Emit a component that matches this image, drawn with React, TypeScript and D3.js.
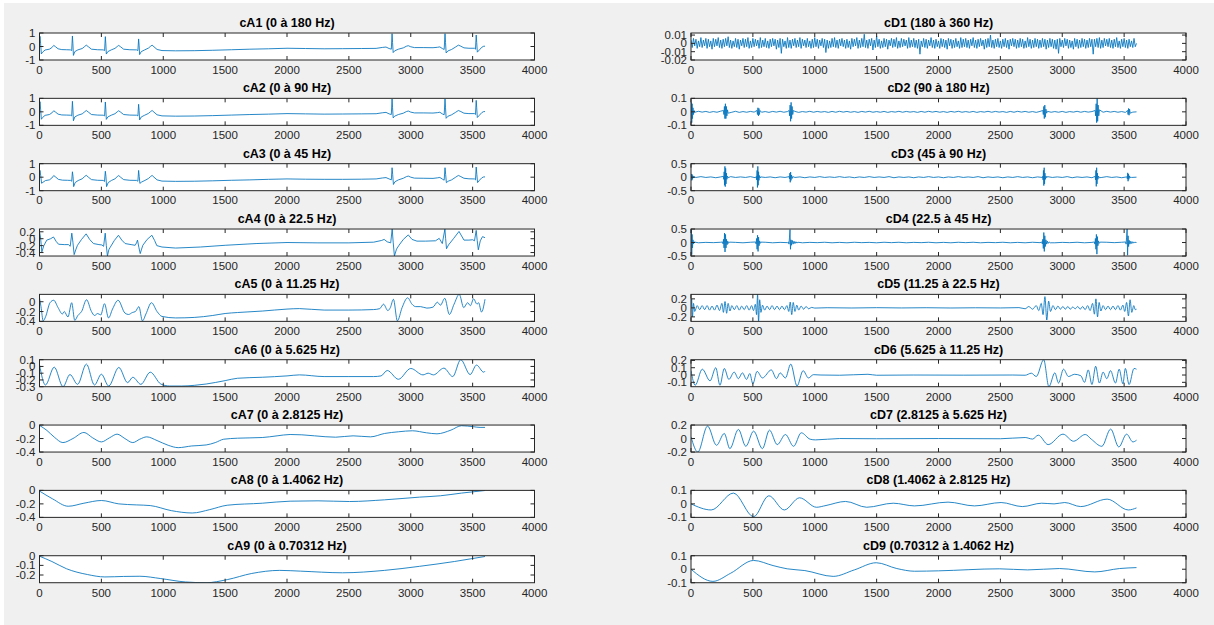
import React from "react";
import * as d3 from "d3";

type Pt = [number, number];

// ---------- axes ticks ----------
const X_TICKS = [0, 500, 1000, 1500, 2000, 2500, 3000, 3500, 4000];

// ---------- approximations (cA) ----------
const cA12: Pt[] = [
  [0, 0.3], [4, 0.75], [9, 0.2], [15, -0.55], [25, -0.42], [45, -0.26], [80, -0.2], [100, -0.08], [115, 0.08],
  [130, -0.02], [150, -0.17], [180, -0.23], [220, -0.24], [250, -0.25], [260, -0.3], [266, 0.78], [270, 0.2],
  [274, -0.66], [285, -0.38], [310, -0.25], [345, -0.15], [365, 0], [378, 0.1], [395, -0.02], [420, -0.2],
  [470, -0.24], [515, -0.25], [526, -0.3], [532, 0.73], [536, 0.2], [540, -0.56], [552, -0.38], [580, -0.25],
  [610, -0.14], [628, 0], [640, 0.08], [655, -0.02], [680, -0.2], [730, -0.24], [785, -0.25], [795, -0.3],
  [801, 0.56], [805, 0.1], [809, -0.6], [822, -0.38], [850, -0.25], [880, -0.12], [898, 0.02], [910, 0.1],
  [925, -0.02], [950, -0.22], [990, -0.3], [1100, -0.32], [1250, -0.31], [1400, -0.28], [1550, -0.24],
  [1700, -0.2], [1850, -0.17], [2000, -0.13], [2150, -0.15], [2300, -0.17], [2450, -0.16], [2600, -0.15],
  [2720, -0.14], [2770, -0.07], [2800, -0.04], [2825, -0.15], [2843, -0.2], [2849, 0.95], [2853, 0.3],
  [2858, -0.45], [2870, -0.32], [2900, -0.2], [2940, -0.1], [2965, 0.02], [2980, 0.06], [3000, -0.02],
  [3030, -0.08], [3100, -0.08], [3180, -0.09], [3215, -0.06], [3235, -0.03], [3255, -0.15], [3270, -0.22],
  [3277, 0.95], [3281, 0.3], [3286, -0.48], [3300, -0.33], [3330, -0.22], [3360, -0.05], [3385, 0.1],
  [3405, 0.02], [3430, -0.1], [3470, -0.13], [3515, -0.13], [3523, -0.2], [3529, 0.85], [3533, 0.3],
  [3538, -0.42], [3555, -0.25], [3575, -0.05], [3590, 0.02], [3600, 0.02],
];

const cA3: Pt[] = [
  [0, 0.25], [4, 0.5], [10, 0.1], [17, -0.45], [28, -0.38], [48, -0.25], [80, -0.2], [100, -0.06], [115, 0.12],
  [132, 0.0], [152, -0.16], [185, -0.22], [225, -0.23], [252, -0.24], [260, -0.3], [266, 0.4], [271, 0.05],
  [276, -0.7], [288, -0.4], [312, -0.25], [345, -0.12], [365, 0.05], [378, 0.14], [395, 0.0], [420, -0.18],
  [470, -0.23], [515, -0.24], [525, -0.32], [532, 0.44], [537, 0.05], [542, -0.7], [555, -0.4], [582, -0.24],
  [610, -0.12], [628, 0.04], [640, 0.12], [655, 0.0], [680, -0.18], [730, -0.23], [785, -0.24], [795, -0.3],
  [801, 0.5], [806, 0.05], [811, -0.46], [825, -0.36], [852, -0.24], [880, -0.1], [898, 0.05], [910, 0.13],
  [925, 0.0], [950, -0.2], [990, -0.29], [1100, -0.31], [1250, -0.3], [1400, -0.27], [1550, -0.23],
  [1700, -0.2], [1850, -0.16], [2000, -0.13], [2150, -0.15], [2300, -0.16], [2450, -0.16], [2600, -0.15],
  [2720, -0.13], [2770, -0.06], [2800, -0.03], [2825, -0.13], [2843, -0.2], [2849, 0.7], [2854, 0.2],
  [2860, -0.54], [2872, -0.34], [2900, -0.2], [2940, -0.08], [2965, 0.04], [2980, 0.08], [3000, 0.0],
  [3030, -0.07], [3100, -0.08], [3180, -0.09], [3215, -0.05], [3235, -0.02], [3255, -0.14], [3270, -0.22],
  [3277, 0.7], [3282, 0.2], [3288, -0.41], [3302, -0.3], [3330, -0.2], [3360, -0.02], [3385, 0.13],
  [3405, 0.04], [3430, -0.08], [3470, -0.12], [3515, -0.13], [3523, -0.2], [3529, 0.75], [3534, 0.2],
  [3540, -0.4], [3556, -0.22], [3575, -0.04], [3590, 0.02], [3600, 0.02],
];

const cA4: Pt[] = [
  [0, 0.2], [8, 0.05], [19, -0.38], [35, -0.2], [59, -0.04], [90, 0.0], [113, 0.05], [135, -0.08], [154, -0.16],
  [200, -0.17], [234, -0.17], [248, -0.22], [261, 0.16], [270, -0.1], [280, -0.46], [295, -0.3], [307, -0.19],
  [340, -0.02], [377, 0.14], [405, -0.02], [436, -0.14], [480, -0.17], [504, -0.18], [518, -0.22], [531, 0.16],
  [540, -0.2], [549, -0.5], [560, -0.32], [571, -0.25], [605, -0.05], [638, 0.1], [665, -0.04], [692, -0.14],
  [740, -0.17], [773, -0.19], [784, -0.12], [792, -0.04], [803, -0.25], [814, -0.43], [825, -0.3], [835, -0.19],
  [870, -0.02], [908, 0.1], [930, -0.05], [948, -0.2], [990, -0.24], [1100, -0.27], [1300, -0.24],
  [1500, -0.19], [1750, -0.14], [2000, -0.11], [2250, -0.12], [2500, -0.12], [2700, -0.1], [2765, -0.05],
  [2785, -0.02], [2810, -0.09], [2838, -0.12], [2850, 0.28], [2858, -0.1], [2868, -0.5], [2885, -0.3],
  [2905, -0.19], [2940, -0.02], [2980, 0.11], [3010, -0.02], [3050, -0.07], [3120, -0.07], [3200, -0.06],
  [3230, 0.01], [3255, -0.14], [3276, 0.28], [3282, 0.0], [3289, -0.29], [3305, -0.18], [3345, 0.0],
  [3390, 0.21], [3430, -0.04], [3470, -0.04], [3500, -0.03], [3515, -0.06], [3529, 0.24], [3537, -0.05],
  [3546, -0.32], [3562, -0.06], [3580, 0.06], [3600, 0.03],
];

const cA5: Pt[] = [
  [0, 0.08], [12, -0.1], [30, -0.39], [50, -0.3], [85, -0.02], [115, 0.03], [150, -0.12], [185, -0.25],
  [200, -0.2], [230, -0.31], [260, -0.02], [285, -0.38], [310, -0.28], [340, -0.2], [380, 0.04], [420, -0.2],
  [445, -0.28], [470, -0.24], [495, -0.27], [525, -0.04], [558, -0.33], [590, -0.15], [635, 0.03],
  [690, -0.23], [720, -0.26], [750, -0.22], [775, -0.2], [803, -0.1], [832, -0.39], [860, -0.25], [905, -0.02],
  [950, -0.2], [990, -0.3], [1100, -0.33], [1250, -0.32], [1400, -0.28], [1500, -0.24], [1600, -0.22],
  [1800, -0.19], [2000, -0.15], [2100, -0.14], [2300, -0.17], [2500, -0.17], [2700, -0.16], [2750, -0.14],
  [2780, -0.05], [2815, -0.18], [2835, -0.12], [2860, 0.05], [2892, -0.39], [2930, -0.12], [2975, 0.08],
  [3010, -0.05], [3040, -0.1], [3080, -0.1], [3130, -0.13], [3180, -0.11], [3215, -0.01], [3240, -0.07],
  [3275, 0.07], [3312, -0.26], [3350, -0.05], [3392, 0.15], [3428, -0.12], [3460, -0.02], [3482, -0.08],
  [3508, 0.06], [3535, -0.05], [3548, -0.02], [3572, -0.21], [3600, 0.05],
];

const cA6: Pt[] = [
  [0, 0.025], [48, -0.275], [119, -0.01], [190, -0.3], [246, -0.12], [308, -0.265], [379, 0.035],
  [444, -0.275], [500, -0.115], [559, -0.29], [641, -0.015], [712, -0.24], [754, -0.16], [819, -0.265],
  [895, -0.085], [980, -0.26], [1050, -0.29], [1150, -0.29], [1250, -0.28], [1347, -0.26], [1500, -0.21],
  [1600, -0.175], [1800, -0.16], [2000, -0.14], [2100, -0.125], [2300, -0.15], [2500, -0.15], [2700, -0.15],
  [2760, -0.14], [2810, -0.06], [2900, -0.19], [3000, -0.03], [3099, -0.125], [3141, -0.1], [3183, -0.125],
  [3268, -0.025], [3339, -0.15], [3404, 0.1], [3480, -0.12], [3531, 0.02], [3590, -0.085], [3600, -0.07],
];

const cA7: Pt[] = [
  [0, -0.005], [60, -0.08], [120, -0.18], [189, -0.26], [270, -0.2], [359, -0.11], [430, -0.19], [500, -0.25],
  [565, -0.19], [627, -0.135], [690, -0.2], [754, -0.26], [810, -0.21], [867, -0.175], [950, -0.23],
  [1040, -0.3], [1121, -0.335], [1230, -0.31], [1347, -0.295], [1420, -0.26], [1489, -0.21], [1600, -0.195],
  [1800, -0.185], [1920, -0.16], [2025, -0.14], [2120, -0.145], [2223, -0.16], [2393, -0.18], [2534, -0.16],
  [2675, -0.175], [2788, -0.125], [2900, -0.1], [3014, -0.085], [3127, -0.115], [3212, -0.13], [3325, -0.075],
  [3410, -0.01], [3508, -0.025], [3560, -0.035], [3600, -0.035],
];

const cA8: Pt[] = [
  [0, -0.01], [105, -0.125], [232, -0.235], [359, -0.19], [500, -0.15], [641, -0.2], [782, -0.215],
  [895, -0.225], [1065, -0.3], [1234, -0.335], [1376, -0.285], [1517, -0.22], [1800, -0.19], [2025, -0.16],
  [2250, -0.155], [2506, -0.165], [2788, -0.14], [3071, -0.1], [3240, -0.08], [3410, -0.04], [3600, -0.002],
];

const cA9: Pt[] = [
  [0, -0.005], [100, -0.06], [218, -0.135], [387, -0.195], [528, -0.22], [680, -0.215], [811, -0.213],
  [980, -0.237], [1178, -0.272], [1347, -0.28], [1517, -0.248], [1715, -0.184], [1941, -0.152], [2110, -0.16],
  [2449, -0.177], [2788, -0.152], [3071, -0.11], [3353, -0.06], [3600, -0.008],
];

// ---------- details (cD) ----------
// cD1: one value every 10 samples, in thousandths
const cD1Noise = [
  4, -5, 6, -3, 5, -6, 3, -4, 7, -5, 4, -3, 6, -6, 5, -4, 3, -7, 6, -4,
  5, -3, 7, -5, 4, -6, 5, -4, 6, -3, 8, -5, 4, -6, 3, -4, 6, -5, 5, -7,
  4, -3, 6, -5, 5, -4, 7, -6, 3, -5, 6, -4, 5, -3, 4, -6, 7, -5, 4, -4,
  6, -5, 3, -6, 5, -4, 6, -3, 5, -7, 4, -5, 6, -12, 5, -4, 3, -6, 7, -5,
  4, -6, 5, -3, 6, -5, 4, -4, 7, -6, 5, -3, 4, -5, 6, -4, 3, -6, 5, -5,
  7, -4, 5, -6, 4, -3, 6, -5, 5, -11, 4, -6, 3, -5, 6, -4, 7, -5, 4, -6,
  5, -3, 6, -4, 4, -6, 5, -5, 3, -7, 6, -4, 5, -3, 7, -6, 4, -5, 6, -4,
  11, -5, 4, -6, 5, -3, 6, -8, 4, -5, 9, -4, 5, -6, 3, -5, 6, -4, 5, -7,
  4, -3, 6, -5, 5, -4, 7, -6, 3, -5, 6, -4, 5, -3, 4, -6, 7, -5, 4, -4,
  6, -5, 4, -6, 5, -13, 3, -4, 6, -5, 5, -6, 4, -3, 7, -5, 4, -6, 5, -4,
  3, -6, 6, -4, 5, -5, 4, -7, 6, -3, 5, -6, 4, -5, 6, -4, 3, -6, 7, -5,
  5, -4, 6, -5, 4, -6, 5, -3, 7, -5, 4, -6, 5, -4, 6, -3, 4, -7, 5, -5,
  6, -4, 10, -5, 4, -6, 5, -4, 6, -5, 3, -6, 5, -4, 6, -5, 4, -7, 5, -3,
  6, -4, 5, -6, 4, -5, 6, -4, 5, -6, 3, -5, 7, -4, 5, -6, 4, -5, 6, -4,
  5, -6, 4, -5, 6, -4, 5, -7, 4, -5, 6, -4, 5, -6, 4, -7, 5, -12, 6, -4,
  4, -5, 6, -3, 5, -6, 4, -5, 3, -7, 6, -4, 5, -6, 4, -5, 6, -4, 5, -6,
  4, -5, 6, -4, 5, -13, 5, -4, 6, -5, 7, -6, 4, -5, 6, -3, 5, -4, 6, -5,
  4, -6, 5, -4, 7, -5, 3, -6, 5, -4, 6, -5, 4, -6, 5, -4, 3, -5, 6, -4,
  0,
];

// cD2: baseline every 30 samples, in thousandths
const cD2Noise = [
  2, -3, 4, -2, 3, -4, 2, -3, 5, -2, 3, -3, 4, -4, 2, -3, 3, -2, 4, -3,
  2, -4, 3, -2, 4, -3, 2, -3, 3, -4, 2, -2, 4, -3, 3, -2, 2, -4, 3, -3,
  4, -2, 3, -3, 2, -4, 3, -2, 4, -3, 2, -3, 3, -4, 2, -2, 4, -3, 3, -2,
  2, -4, 3, -3, 4, -2, 3, -3, 2, -4, 3, -2, 4, -3, 2, -3, 3, -4, 2, -2,
  4, -3, 3, -2, 2, -4, 3, -3, 4, -2, 3, -3, 2, -4, 3, -2, 4, -3, 2, -3,
  3, -4, 2, -2, 4, -3, 3, -2, 2, -4, 3, -3, 4, -2, 3, -3, 2, -4, 3, -2,
  0,
];
const cD2Bursts: Pt[][] = [
  [[0, 0.0], [3, 0.07], [6, -0.08], [9, 0.06], [12, -0.05], [16, 0.03], [20, -0.02], [25, 0.01]],
  [[262, 0.01], [266, -0.02], [270, 0.04], [274, -0.05], [278, 0.06], [282, -0.05], [286, 0.04], [290, -0.03], [295, 0.015], [300, -0.01]],
  [[533, 0.01], [537, -0.02], [541, 0.03], [545, -0.03], [549, 0.025], [553, -0.02], [558, 0.01]],
  [[793, 0.01], [797, -0.03], [801, 0.05], [805, -0.07], [809, 0.07], [813, -0.05], [817, 0.04], [822, -0.02], [828, 0.01]],
  [[2843, 0.01], [2847, -0.02], [2851, 0.04], [2855, -0.05], [2859, 0.05], [2863, -0.04], [2868, 0.02], [2874, -0.01]],
  [[3266, 0.01], [3270, -0.03], [3274, 0.06], [3278, -0.08], [3282, 0.1], [3286, -0.07], [3290, 0.05], [3295, -0.03], [3301, 0.015]],
  [[3528, 0.01], [3532, -0.02], [3536, 0.025], [3540, -0.025], [3544, 0.02], [3549, -0.01]],
];

// cD3: baseline every 40 samples, in hundredths
const cD3Noise = [
  1, -1, 2, -1, 1, -2, 1, -1, 2, -1, 1, -1, 2, -2, 1,
  -1, 1, -2, 1, -1, 2, -1, 1, -2, 1, -1, 2, -1, 1, -1,
  2, -1, 1, -2, 1, -1, 2, -1, 1, -1, 2, -2, 1, -1, 1,
  -2, 1, -1, 2, -1, 1, -2, 1, -1, 2, -1, 1, -1, 2, -2,
  1, -1, 1, -2, 1, -1, 2, -1, 1, -2, 1, -1, 2, -1, 1,
  -1, 2, -2, 1, -1, 1, -2, 1, -1, 2, -1, 1, -2, 1, -1,
  0,
];
const cD3Bursts: Pt[][] = [
  [[0, 0.02], [3, 0.12], [6, -0.12], [9, 0.1], [12, -0.08], [16, 0.05], [20, -0.03], [25, 0.01]],
  [[262, 0.03], [265, -0.08], [268, 0.2], [271, -0.3], [274, 0.4], [277, -0.35], [280, 0.33], [283, -0.25], [286, 0.15], [290, -0.08], [295, 0.04], [300, -0.02]],
  [[528, 0.03], [531, -0.1], [534, 0.25], [537, -0.38], [540, 0.4], [543, -0.3], [546, 0.2], [549, -0.12], [553, 0.06], [558, -0.03], [563, 0.01]],
  [[793, 0.02], [796, -0.06], [799, 0.15], [802, -0.19], [805, 0.19], [808, -0.12], [812, 0.08], [817, -0.05], [822, 0.02]],
  [[2842, 0.03], [2845, -0.1], [2848, 0.25], [2851, -0.31], [2854, 0.35], [2857, -0.25], [2860, 0.15], [2864, -0.08], [2869, 0.04], [2875, -0.02]],
  [[3266, 0.03], [3269, -0.1], [3272, 0.25], [3275, -0.34], [3278, 0.35], [3281, -0.25], [3284, 0.15], [3288, -0.08], [3293, 0.04], [3299, -0.02]],
  [[3523, 0.02], [3526, -0.06], [3529, 0.16], [3532, -0.15], [3535, 0.12], [3538, -0.08], [3542, 0.05], [3547, -0.03], [3553, 0.01]],
];

// cD4: baseline every 60 samples, in hundredths
const cD4Noise = [
  1, -1, 0.5, -0.5, 1, -1, 0.5, -1, 1, -0.5, 1, -1, 0.5, -0.5, 1,
  -1, 0.5, -0.5, 1, -1, 0.5, -1, 1, -0.5, 0.5, -1, 1, -0.5, 1, -1,
  0.5, -0.5, 1, -1, 0.5, -1, 1, -0.5, 1, -1, 0.5, -0.5, 1, -1, 0.5,
  -1, 1, -0.5, 1, -1, 0.5, -0.5, 1, -1, 0.5, -1, 1, -0.5, 1, -1,
  0,
];
const cD4Bursts: Pt[][] = [
  [[0, 0.05], [3, 0.5], [6, -0.45], [9, 0.3], [12, -0.2], [16, 0.1], [20, -0.05], [25, 0.02]],
  [[255, 0.02], [259, -0.05], [263, 0.12], [267, -0.2], [271, 0.35], [275, -0.35], [279, 0.3], [283, -0.2], [287, 0.12], [292, -0.08], [297, 0.05], [303, -0.03], [310, 0.015]],
  [[522, 0.02], [526, -0.05], [530, 0.15], [534, -0.25], [538, 0.27], [542, -0.33], [546, 0.2], [550, -0.12], [555, 0.06], [560, -0.03], [566, 0.015]],
  [[788, 0.02], [792, -0.06], [796, 0.2], [800, 0.48], [804, -0.25], [808, 0.1], [812, -0.1], [818, 0.08], [825, -0.06], [832, 0.05], [840, -0.04], [848, 0.03], [856, -0.02], [864, 0.01]],
  [[2835, 0.02], [2839, -0.05], [2843, 0.12], [2847, -0.22], [2851, 0.37], [2855, -0.33], [2859, 0.25], [2863, -0.15], [2868, 0.1], [2874, -0.06], [2880, 0.05], [2887, -0.03], [2895, 0.02], [2903, -0.01]],
  [[3260, 0.02], [3264, -0.06], [3268, 0.15], [3272, -0.25], [3276, 0.3], [3280, -0.43], [3284, 0.22], [3288, -0.12], [3293, 0.06], [3299, -0.03], [3306, 0.015]],
  [[3512, 0.02], [3516, -0.06], [3520, 0.2], [3524, 0.5], [3528, -0.47], [3532, 0.25], [3536, -0.15], [3541, 0.08], [3547, -0.06], [3554, 0.05], [3562, -0.04], [3570, 0.03], [3578, -0.02], [3586, 0.01]],
];

const cD5: Pt[] = [
  [0, 0.02], [5, 0.2], [12, -0.2], [20, 0.1], [30, -0.08], [50, 0.05], [70, -0.04], [90, 0.05], [110, -0.04],
  [130, 0.05], [150, -0.05], [170, 0.04], [190, -0.05], [210, 0.06], [230, -0.06], [250, 0.1], [262, -0.1],
  [275, 0.14], [288, -0.12], [300, 0.1], [315, -0.07], [330, 0.05], [350, -0.04], [370, 0.05], [390, -0.05],
  [410, 0.04], [430, -0.04], [450, 0.05], [470, -0.05], [490, 0.05], [505, -0.06], [520, 0.08], [530, -0.15],
  [538, 0.3], [546, -0.3], [555, 0.18], [565, -0.1], [578, 0.06], [595, -0.05], [615, 0.04], [635, -0.04],
  [655, 0.05], [675, -0.04], [695, 0.04], [715, -0.04], [735, 0.04], [755, -0.04], [775, 0.05], [790, -0.08],
  [802, 0.13], [814, -0.15], [826, 0.12], [840, -0.08], [855, 0.06], [870, -0.05], [890, 0.04], [910, -0.03],
  [930, 0.03], [950, -0.02], [975, 0.01], [1000, -0.005], [1100, 0.003], [1300, -0.003], [1500, 0.004],
  [1700, -0.002], [1900, 0.003], [2100, -0.003], [2300, 0.002], [2500, -0.002], [2650, 0.005], [2700, -0.02],
  [2730, 0.03], [2760, -0.03], [2790, 0.05], [2810, -0.06], [2830, 0.1], [2845, -0.15], [2860, 0.25],
  [2875, -0.27], [2890, 0.15], [2905, -0.08], [2925, 0.05], [2945, -0.04], [2965, 0.04], [2985, -0.03],
  [3005, 0.03], [3025, -0.03], [3045, 0.03], [3065, -0.03], [3085, 0.02], [3105, -0.02], [3125, 0.03],
  [3145, -0.03], [3165, 0.03], [3185, -0.04], [3205, 0.05], [3225, -0.06], [3245, 0.1], [3260, -0.14],
  [3272, 0.2], [3285, -0.2], [3298, 0.12], [3312, -0.07], [3330, 0.05], [3350, -0.04], [3370, 0.04],
  [3390, -0.04], [3410, 0.04], [3430, -0.04], [3450, 0.05], [3470, -0.05], [3490, 0.06], [3505, -0.08],
  [3520, 0.12], [3535, -0.18], [3548, 0.18], [3562, -0.1], [3578, 0.05], [3590, -0.04], [3600, -0.03],
];

const cD6: Pt[] = [
  [0, 0.06], [34, -0.14], [91, 0.08], [154, -0.08], [200, 0.1], [234, -0.14], [269, 0.09], [306, -0.06],
  [349, 0.04], [383, -0.05], [415, 0.03], [449, -0.06], [475, 0.02], [500, -0.12], [534, 0.05], [577, -0.04],
  [649, 0.07], [691, -0.05], [720, 0.03], [763, -0.04], [806, 0.15], [857, -0.15], [906, 0.06], [949, -0.04],
  [990, 0.005], [1050, 0.0], [1200, -0.003], [1430, 0.01], [1500, -0.003], [1800, 0.0], [2200, -0.002],
  [2600, 0.0], [2700, -0.003], [2750, 0.025], [2790, -0.02], [2850, 0.21], [2892, -0.16], [2940, 0.03],
  [2970, -0.11], [3010, 0.08], [3050, -0.02], [3100, 0.01], [3150, -0.01], [3180, -0.1], [3210, 0.07],
  [3240, -0.13], [3270, 0.12], [3300, -0.11], [3330, 0.04], [3360, -0.05], [3390, 0.06], [3430, -0.11],
  [3460, 0.08], [3490, -0.12], [3510, 0.09], [3540, -0.13], [3580, 0.09], [3600, 0.08],
];

const cD7: Pt[] = [
  [0, 0.025], [55, -0.2], [134, 0.185], [206, -0.1], [269, 0.075], [314, -0.15], [383, 0.135], [443, -0.115],
  [506, 0.11], [577, -0.15], [634, 0.125], [697, -0.09], [763, 0.06], [829, -0.115], [891, 0.085],
  [963, -0.01], [1006, -0.02], [1200, 0.0], [1500, -0.003], [2000, 0.0], [2500, -0.003], [2700, 0.015],
  [2760, -0.008], [2806, 0.05], [2886, -0.09], [3006, 0.065], [3091, -0.04], [3186, 0.06], [3235, -0.01],
  [3320, -0.115], [3391, 0.14], [3457, -0.125], [3520, 0.065], [3571, -0.05], [3600, -0.025],
];

const cD8: Pt[] = [
  [0, 0.0], [163, -0.045], [343, 0.08], [506, -0.095], [629, 0.06], [754, -0.045], [877, 0.045], [1014, -0.025],
  [1091, -0.012], [1249, 0.018], [1420, -0.025], [1634, 0.005], [1806, -0.015], [2077, 0.013], [2291, -0.015],
  [2506, 0.01], [2677, -0.02], [2834, 0.005], [2934, 0.0], [3020, 0.01], [3149, -0.02], [3363, 0.035],
  [3534, -0.045], [3600, -0.03],
];

const cD9: Pt[] = [
  [0, 0.0], [177, -0.09], [320, -0.03], [506, 0.065], [663, 0.027], [777, 0.003], [920, -0.01], [1149, -0.053],
  [1320, -0.005], [1497, 0.048], [1663, 0.005], [1806, -0.015], [2000, -0.012], [2491, 0.003], [2720, -0.005],
  [2977, 0.005], [3263, -0.02], [3463, 0.005], [3600, 0.012],
];

// ---------- builders ----------
function fromNoise(values: number[], step: number, unit: number): Pt[] {
  return values.map((v, i) => [i * step, v * unit] as Pt);
}

function withBursts(base: Pt[], bursts: Pt[][]): Pt[] {
  const spans = bursts.map((b) => [b[0][0], b[b.length - 1][0]]);
  const kept = base.filter(([x]) => !spans.some(([a, b]) => x >= a && x <= b));
  return [...kept, ...bursts.flat()].sort((a, b) => a[0] - b[0]);
}

type PanelDef = {
  title: string;
  data: Pt[];
  yDomain: [number, number];
  yTicks: number[];
  smooth: boolean;
};

const leftPanels: PanelDef[] = [
  { title: "cA1 (0 à 180 Hz)", data: cA12, yDomain: [-1, 1], yTicks: [-1, 0, 1], smooth: false },
  { title: "cA2 (0 à 90 Hz)", data: cA12, yDomain: [-1, 1], yTicks: [-1, 0, 1], smooth: false },
  { title: "cA3 (0 à 45 Hz)", data: cA3, yDomain: [-1, 1], yTicks: [-1, 0, 1], smooth: false },
  { title: "cA4 (0 à 22.5 Hz)", data: cA4, yDomain: [-0.5, 0.28], yTicks: [-0.4, -0.2, 0, 0.2], smooth: false },
  { title: "cA5 (0 à 11.25 Hz)", data: cA5, yDomain: [-0.4, 0.15], yTicks: [-0.4, -0.2, 0], smooth: true },
  { title: "cA6 (0 à 5.625 Hz)", data: cA6, yDomain: [-0.3, 0.1], yTicks: [-0.3, -0.2, -0.1, 0, 0.1], smooth: true },
  { title: "cA7 (0 à 2.8125 Hz)", data: cA7, yDomain: [-0.4, 0], yTicks: [-0.4, -0.2, 0], smooth: true },
  { title: "cA8 (0 à 1.4062 Hz)", data: cA8, yDomain: [-0.4, 0], yTicks: [-0.4, -0.2, 0], smooth: true },
  { title: "cA9 (0 à 0.70312 Hz)", data: cA9, yDomain: [-0.28, 0], yTicks: [-0.2, -0.1, 0], smooth: true },
];

const rightPanels: PanelDef[] = [
  { title: "cD1 (180 à 360 Hz)", data: fromNoise(cD1Noise, 10, 0.001), yDomain: [-0.02, 0.0125], yTicks: [-0.02, -0.01, 0, 0.01], smooth: false },
  { title: "cD2 (90 à 180 Hz)", data: withBursts(fromNoise(cD2Noise, 30, 0.001), cD2Bursts), yDomain: [-0.1, 0.1], yTicks: [-0.1, 0, 0.1], smooth: false },
  { title: "cD3 (45 à 90 Hz)", data: withBursts(fromNoise(cD3Noise, 40, 0.01), cD3Bursts), yDomain: [-0.5, 0.5], yTicks: [-0.5, 0, 0.5], smooth: false },
  { title: "cD4 (22.5 à 45 Hz)", data: withBursts(fromNoise(cD4Noise, 60, 0.01), cD4Bursts), yDomain: [-0.5, 0.5], yTicks: [-0.5, 0, 0.5], smooth: false },
  { title: "cD5 (11.25 à 22.5 Hz)", data: cD5, yDomain: [-0.3, 0.3], yTicks: [-0.2, 0, 0.2], smooth: true },
  { title: "cD6 (5.625 à 11.25 Hz)", data: cD6, yDomain: [-0.16, 0.21], yTicks: [-0.1, 0, 0.1, 0.2], smooth: true },
  { title: "cD7 (2.8125 à 5.625 Hz)", data: cD7, yDomain: [-0.2, 0.2], yTicks: [-0.2, 0, 0.2], smooth: true },
  { title: "cD8 (1.4062 à 2.8125 Hz)", data: cD8, yDomain: [-0.1, 0.1], yTicks: [-0.1, 0, 0.1], smooth: true },
  { title: "cD9 (0.70312 à 1.4062 Hz)", data: cD9, yDomain: [-0.1, 0.1], yTicks: [-0.1, 0, 0.1], smooth: true },
];

// ---------- layout ----------
const W = 1214;
const H = 625;
const COL_X = [39.5, 691];
const AX_W = 495;
const AX_H = 27;
const ROW_Y0 = 33;
const ROW_STEP = 65.34;
const TICK = 4;
const FONT = "'Liberation Sans', Arial, Helvetica, sans-serif";
const AXIS_COLOR = "#262626";
const LINE_COLOR = "#0072BD";

function Panel({ def, x0, y0, id }: { def: PanelDef; x0: number; y0: number; id: string }) {
  const x = d3.scaleLinear().domain([0, 4000]).range([x0, x0 + AX_W]);
  const y = d3.scaleLinear().domain(def.yDomain).range([y0 + AX_H, y0]);
  const line = d3
    .line<Pt>()
    .x((d) => x(d[0]))
    .y((d) => y(d[1]))
    .curve(def.smooth ? d3.curveMonotoneX : d3.curveLinear);

  return (
    <g>
      <defs>
        <clipPath id={id}>
          <rect x={x0} y={y0} width={AX_W} height={AX_H} />
        </clipPath>
      </defs>
      <rect x={x0} y={y0} width={AX_W} height={AX_H} fill="#fff" />
      <path d={line(def.data) || ""} fill="none" stroke={LINE_COLOR} strokeWidth={0.85} clipPath={`url(#${id})`} />
      <g stroke={AXIS_COLOR} strokeWidth={1}>
        {X_TICKS.map((t) => (
          <g key={"x" + t}>
            <line x1={x(t)} x2={x(t)} y1={y0 + AX_H} y2={y0 + AX_H - TICK} />
            <line x1={x(t)} x2={x(t)} y1={y0} y2={y0 + TICK} />
          </g>
        ))}
        {def.yTicks.map((t) => (
          <g key={"y" + t}>
            <line x1={x0} x2={x0 + TICK} y1={y(t)} y2={y(t)} />
            <line x1={x0 + AX_W} x2={x0 + AX_W - TICK} y1={y(t)} y2={y(t)} />
          </g>
        ))}
        <rect x={x0} y={y0} width={AX_W} height={AX_H} fill="none" />
      </g>
      <g fontFamily={FONT} fontSize={11.5} fill={AXIS_COLOR}>
        {X_TICKS.map((t) => (
          <text key={"xl" + t} x={x(t)} y={y0 + AX_H + 13.8} textAnchor="middle">
            {t}
          </text>
        ))}
        {def.yTicks.map((t) => (
          <text key={"yl" + t} x={x0 - 4} y={y(t)} dy="0.35em" textAnchor="end">
            {String(t)}
          </text>
        ))}
      </g>
      <text
        x={x0 + AX_W / 2}
        y={y0 - 6}
        textAnchor="middle"
        fontFamily={FONT}
        fontSize={12.5}
        fontWeight="bold"
        fill="#000"
      >
        {def.title}
      </text>
    </g>
  );
}

export default function App() {
  return (
    <svg
      width={W}
      height={H}
      viewBox={`0 0 ${W} ${H}`}
      style={{ position: "absolute", left: 0, top: 0, background: "#fff" }}
    >
      <rect x={4} y={3} width={W - 4} height={H - 3} fill="#f0f0f0" />
      {leftPanels.map((p, i) => (
        <Panel key={"L" + i} def={p} x0={COL_X[0]} y0={ROW_Y0 + i * ROW_STEP} id={"clipL" + i} />
      ))}
      {rightPanels.map((p, i) => (
        <Panel key={"R" + i} def={p} x0={COL_X[1]} y0={ROW_Y0 + i * ROW_STEP} id={"clipR" + i} />
      ))}
    </svg>
  );
}
